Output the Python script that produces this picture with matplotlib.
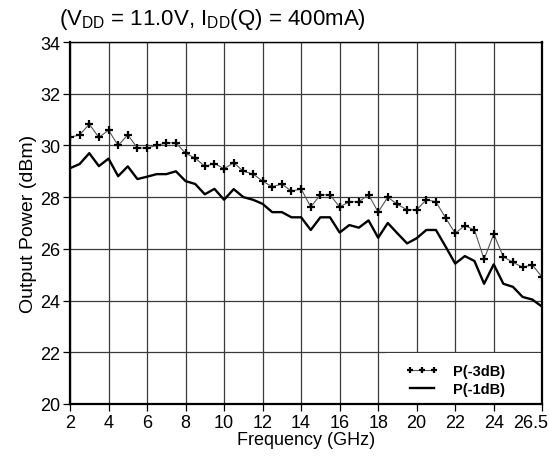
"""Output power vs frequency, P(-3dB) and P(-1dB)."""
import matplotlib
matplotlib.use("Agg")
import matplotlib.pyplot as plt
import matplotlib.patches as mpatches
import matplotlib.transforms as mtransforms

# frequency points, every 0.5 GHz from 2 to 26.5
freq_ghz = [2.0, 2.5, 3.0, 3.5, 4.0, 4.5, 5.0, 5.5, 6.0, 6.5,
            7.0, 7.5, 8.0, 8.5, 9.0, 9.5, 10.0, 10.5, 11.0, 11.5,
            12.0, 12.5, 13.0, 13.5, 14.0, 14.5, 15.0, 15.5, 16.0, 16.5,
            17.0, 17.5, 18.0, 18.5, 19.0, 19.5, 20.0, 20.5, 21.0, 21.5,
            22.0, 22.5, 23.0, 23.5, 24.0, 24.5, 25.0, 25.5, 26.0, 26.5]

p3db = [30.31, 30.41, 30.82, 30.31, 30.59, 30.0, 30.41, 29.9, 29.9, 30.0,
        30.1, 30.1, 29.7, 29.51, 29.19, 29.3, 29.1, 29.33, 29.0, 28.9,
        28.62, 28.4, 28.51, 28.23, 28.32, 27.62, 28.09, 28.09, 27.62, 27.82,
        27.82, 28.1, 27.42, 28.0, 27.72, 27.51, 27.51, 27.9, 27.82, 27.2,
        26.6, 26.9, 26.73, 25.6, 26.57, 25.69, 25.48, 25.29, 25.38, 24.92]

p1db = [29.12, 29.28, 29.7, 29.2, 29.49, 28.81, 29.19, 28.7, 28.79, 28.89,
        28.89, 29.0, 28.62, 28.51, 28.11, 28.32, 27.9, 28.31, 28.0, 27.9,
        27.74, 27.42, 27.42, 27.22, 27.22, 26.73, 27.22, 27.22, 26.63, 26.92,
        26.82, 27.1, 26.43, 27.0, 26.6, 26.21, 26.41, 26.73, 26.73, 26.09,
        25.43, 25.72, 25.53, 24.65, 25.4, 24.65, 24.53, 24.14, 24.04, 23.77]

x_ticks = [2, 4, 6, 8, 10, 12, 14, 16, 18, 20, 22, 24, 26.5]
x_tick_labels = ["2", "4", "6", "8", "10", "12", "14", "16", "18", "20", "22", "24", "26.5"]
y_ticks = [20, 22, 24, 26, 28, 30, 32, 34]

plt.rcParams["font.family"] = ["Liberation Sans", "DejaVu Sans"]
plt.rcParams["mathtext.fontset"] = "custom"
plt.rcParams["mathtext.rm"] = "Liberation Sans"

fig = plt.figure(figsize=(5.49, 4.60), dpi=100)
ax = fig.add_axes([0.1275, 0.1196, 0.8595, 0.7869])

ax.plot(freq_ghz, p3db, color="#555555", linewidth=0.8, marker="+",
        markersize=6, markeredgewidth=1.6, markeredgecolor="black",
        label="P(-3dB)", zorder=3)
ax.plot(freq_ghz, p1db, color="black", linewidth=1.7, label="P(-1dB)", zorder=3)

ax.set_xlim(2, 26.5)
ax.set_ylim(20, 34)
ax.set_xticks(x_ticks)
ax.set_xticklabels(x_tick_labels)
ax.set_yticks(y_ticks)
ax.set_axisbelow(True)
ax.grid(True, color="#3a3a3a", linewidth=0.9)
ax.tick_params(direction="out", length=5, width=0.9, labelsize=13, pad=2)

# last label would run off the right edge; right-align it near the tick
last = ax.get_xticklabels()[-1]
last.set_horizontalalignment("right")
last.set_transform(last.get_transform() + mtransforms.ScaledTranslation(6 / 100, 0, fig.dpi_scale_trans))

for side in ("left", "bottom", "right"):
    ax.spines[side].set_linewidth(1.6)
ax.spines["top"].set_linewidth(1.0)

ax.set_xlabel("Frequency (GHz)", fontsize=13, labelpad=0)
ax.set_ylabel("Output Power (dBm)", fontsize=14, labelpad=2)

fig.text(0.108, 0.958, r"(V$_{\rm DD}$ = 11.0V, I$_{\rm DD}$(Q) = 400mA)",
         fontsize=16, ha="left", va="center")

# white block behind the legend, hides the grid in the lower-right cells
ax.add_patch(mpatches.Rectangle((0.67, 0.0), 0.33, 0.14, transform=ax.transAxes,
                                facecolor="white", edgecolor="none", zorder=1.5))

ax.legend(loc="center left", bbox_to_anchor=(0.695, 0.066), frameon=False,
          borderpad=0, handlelength=2.3, handletextpad=1.0,
          prop={"weight": "bold", "size": 10.5}, labelspacing=0.25,
          markerscale=0.8, numpoints=3)

fig.savefig("out.png", dpi=100)
